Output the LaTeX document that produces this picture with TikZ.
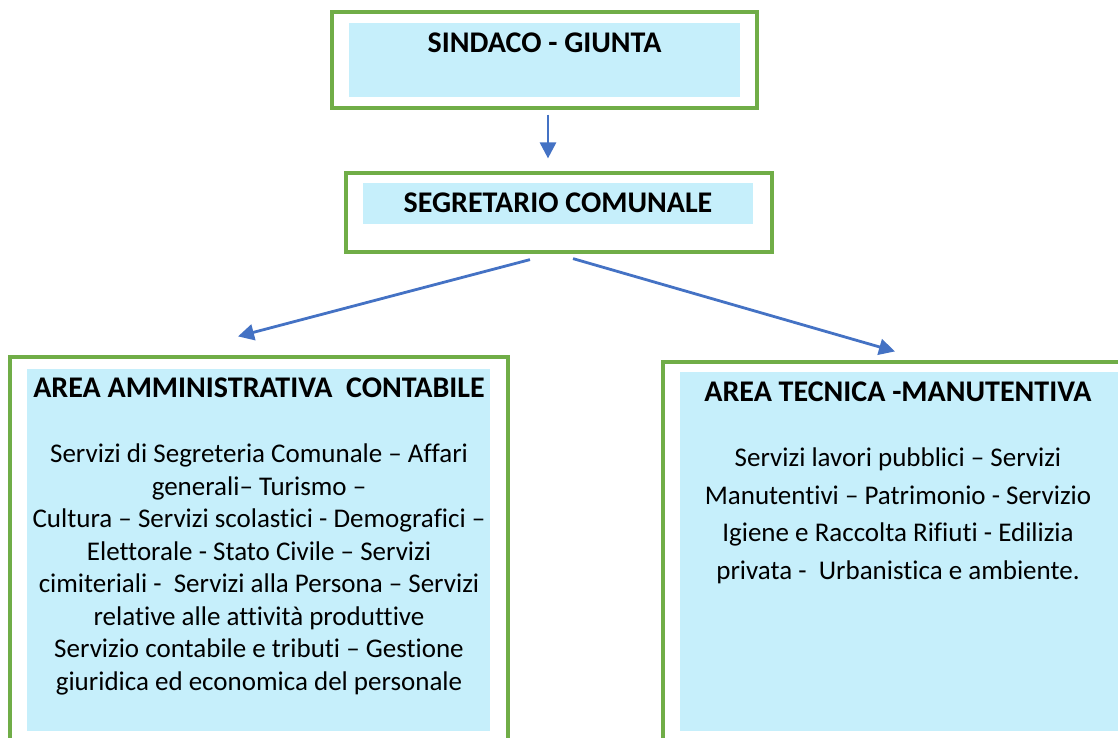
\documentclass[tikz,border=0pt]{standalone}
\usepackage{fontspec}
\setmainfont{Carlito}[Ligatures=NoCommon]
\usetikzlibrary{arrows.meta}
\definecolor{verde}{HTML}{70AD47}
\definecolor{azzurro}{HTML}{C6EFFB}
\definecolor{blu}{HTML}{4472C4}
\begin{document}
\begin{tikzpicture}[x=1pt, y=-1pt,
    cornice/.style={rectangle, draw=verde, line width=3.2pt, inner sep=0pt},
    fondo/.style={rectangle, fill=azzurro, inner sep=0pt},
    titolo/.style={font=\fontsize{30}{34}\selectfont\bfseries, inner sep=0pt},
    testo/.style={align=center, inner sep=0pt},
    freccia/.style={draw=blu, line width=2.8pt, -{Triangle[length=16pt, width=16pt]}}]
      \useasboundingbox (0,0) rectangle (1118,737);
      \node (sindaco) at (544.5,60) [cornice, minimum width=425pt, minimum height=96pt] {};
      \node (sindacoF) at (544.5,60) [fondo, minimum width=391pt, minimum height=74pt] {};
      \node (sindacoT) at (544.5,43) [titolo] {SINDACO - GIUNTA};
      \node (segretario) at (559,212.5) [cornice, minimum width=426pt, minimum height=79pt] {};
      \node (segretarioF) at (558,203.5) [fondo, minimum width=390pt, minimum height=41pt] {};
      \node (segretarioT) at (558,203) [titolo] {SEGRETARIO COMUNALE};
      \node (amm) at (259,558.5) [cornice, minimum width=498pt, minimum height=403pt] {};
      \node (ammF) at (258.5,550) [fondo, minimum width=463pt, minimum height=362pt] {};
      \node (ammT) at (259,388) [titolo] {AREA AMMINISTRATIVA\ \ CONTABILE};
      \node (ammS) at (259,569.5) [testo, font=\fontsize{27}{32.5}\selectfont] {Servizi di Segreteria Comunale – Affari\\generali– Turismo –\\Cultura – Servizi scolastici - Demografici –\\Elettorale - Stato Civile – Servizi\\cimiteriali -\ \ Servizi alla Persona – Servizi\\relative alle attività produttive\\Servizio contabile e tributi – Gestione\\giuridica ed economica del personale};
      \node (tec) at (896.5,561) [cornice, minimum width=467pt, minimum height=398pt] {};
      \node (tecF) at (902.5,551.5) [fondo, minimum width=445pt, minimum height=359pt] {};
      \node (tecT) at (898,392) [titolo] {AREA TECNICA -MANUTENTIVA};
      \node (tecS) at (898,516) [testo, font=\fontsize{27}{37.5}\selectfont] {Servizi lavori pubblici – Servizi\\Manutentivi – Patrimonio - Servizio\\Igiene e Raccolta Rifiuti - Edilizia\\privata -\ \ Urbanistica e ambiente.};
      \coordinate (p1) at ([xshift=3.5pt,yshift=-5pt]sindaco.south);
      \coordinate (a1) at ([xshift=-11pt,yshift=13pt]segretario.north);
      \coordinate (p2) at ([xshift=-29pt,yshift=-6pt]segretario.south);
      \coordinate (a2) at ([xshift=-21pt,yshift=19pt]amm.north);
      \coordinate (p3) at ([xshift=14pt,yshift=-5pt]segretario.south);
      \coordinate (a3) at ([xshift=-1.5pt,yshift=9pt]tec.north);
      \foreach \source/\dest in {p1/a1, p2/a2, p3/a3}
        \draw[freccia] (\source) -- (\dest);
    \end{tikzpicture}
\end{document}
